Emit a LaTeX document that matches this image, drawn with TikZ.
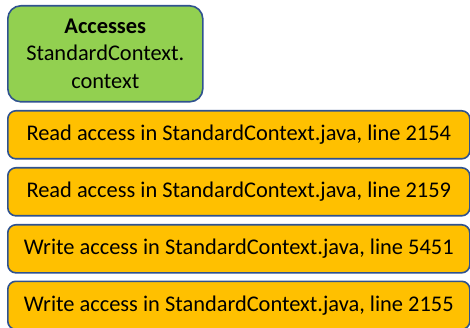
\documentclass[tikz,border=0pt]{standalone}
\usepackage{fontspec}
\setmainfont{Carlito}
\definecolor{boxline}{HTML}{2F528F}
\definecolor{leaf}{HTML}{92D050}
\definecolor{amber}{HTML}{FFC000}
\begin{document}
\begin{tikzpicture}[x=1pt,y=-1pt,
  card/.style={draw=boxline, line width=1.6pt, rounded corners=8pt, inner sep=0pt},
  access/.style={card, fill=amber, minimum width=462pt, minimum height=48pt, anchor=north west, font=\fontsize{22.4}{26}\selectfont},
  header/.style={card, fill=leaf, rounded corners=13pt, minimum width=195pt, minimum height=96pt, anchor=north west, align=center, font=\fontsize{22.4}{27.5}\selectfont}]
\useasboundingbox (0,0) rectangle (470,328);
\node[header] (hdr) at (7,5) {\textbf{Accesses}\\StandardContext.\\context};
\node[access] (a1) at (7,110) {Read access in StandardContext.java, line 2154};
\node[access] (a2) at (7,167) {Read access in StandardContext.java, line 2159};
\node[access] (a3) at (7,224) {Write access in StandardContext.java, line 5451};
\node[access] (a4) at (7,280.5) {Write access in StandardContext.java, line 2155};
\end{tikzpicture}
\end{document}
